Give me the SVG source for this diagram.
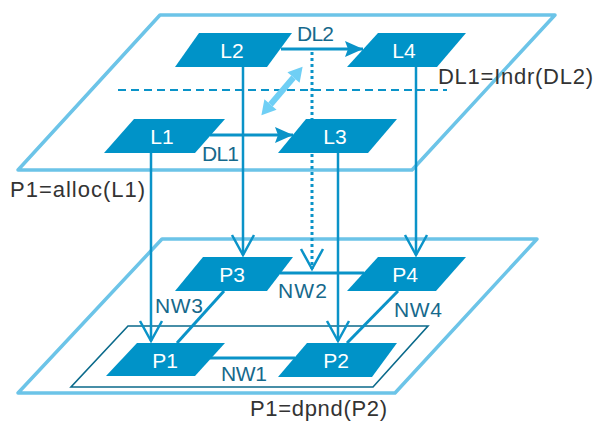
<svg xmlns="http://www.w3.org/2000/svg" width="595" height="421" viewBox="0 0 595 421">
  <style>
    .plane { fill: none; stroke: #6cc4e8; stroke-width: 3.5; stroke-linejoin: round; }
    .inner { fill: none; stroke: #0b6a8b; stroke-width: 1.6; }
    .node { fill: #0093c8; }
    .nlabel { font-family: "Liberation Sans", Arial, sans-serif; font-size: 21px; fill: #ffffff; text-anchor: middle; }
    .elabel { font-family: "Liberation Sans", Arial, sans-serif; font-size: 21px; fill: #16698c; }
    .rel { font-family: "Liberation Sans", Arial, sans-serif; font-size: 22px; fill: #333333; }
    .link { stroke: #0a93c8; stroke-width: 3; fill: none; }
    .map { stroke: #0a93c8; stroke-width: 2.5; fill: none; marker-end: url(#vhead); }
    .dots { stroke: #0a93c8; stroke-width: 3; fill: none; stroke-dasharray: 3 3; marker-end: url(#vhead); }
    .dash { stroke: #0a93c8; stroke-width: 2; fill: none; stroke-dasharray: 8 5; }
    .swap { stroke: #6fcff5; stroke-width: 6; fill: none; marker-start: url(#lhead); marker-end: url(#lhead); }
  </style>
  <defs>
    <marker id="vhead" markerUnits="userSpaceOnUse" viewBox="-22 -13 24 26" refX="0" refY="0" markerWidth="24" markerHeight="26" orient="auto" overflow="visible">
      <path d="M-20,-11 L0,0 L-20,11" fill="none" stroke="#0a93c8" stroke-width="2.5" stroke-linejoin="miter"/>
    </marker>
    <marker id="fhead" markerUnits="userSpaceOnUse" viewBox="-19 -9 20 18" refX="0" refY="0" markerWidth="20" markerHeight="18" orient="auto" overflow="visible">
      <path d="M0,0 L-18,-8 L-15,0 L-18,8 Z" fill="#0a93c8"/>
    </marker>
    <!-- tip sits 14 units past the line end so the wide stroke stays inside the head -->
    <marker id="lhead" markerUnits="userSpaceOnUse" viewBox="-1 -9 16 18" refX="0" refY="0" markerWidth="16" markerHeight="18" orient="auto-start-reverse" overflow="visible">
      <path d="M14,0 L0,-8 L0,8 Z" fill="#6fcff5"/>
    </marker>
  </defs>

  <!-- layers -->
  <g id="logical-plane">
    <polygon class="plane" points="160,15 555,15 412,170 18,170"/>
    <line class="dash" x1="118" y1="90" x2="447" y2="90"/>
  </g>
  <g id="physical-plane">
    <polygon class="plane" points="162,239 537,239 395,393 18,393"/>
    <polygon class="inner" points="128,326 428,326 373,387 71,387"/>
  </g>

  <!-- connectors -->
  <g id="connectors">
    <line class="link" x1="281" y1="49" x2="363" y2="49" marker-end="url(#fhead)"/>
    <line class="link" x1="210" y1="135" x2="293" y2="135" marker-end="url(#fhead)"/>
    <line class="swap" x1="270.5" y1="104.5" x2="293.5" y2="77.5"/>
    <line class="dots" x1="312" y1="52" x2="312" y2="269"/>
    <line class="map" x1="151" y1="153" x2="151" y2="341"/>
    <line class="map" x1="243" y1="67" x2="243" y2="255"/>
    <line class="map" x1="338" y1="153" x2="338" y2="341"/>
    <line class="map" x1="416" y1="67" x2="416" y2="255"/>
    <line class="link" x1="280" y1="273" x2="364" y2="273"/>
    <line class="link" x1="210" y1="358" x2="295" y2="358"/>
    <line class="link" x1="224" y1="291" x2="177" y2="343"/>
    <line class="link" x1="398" y1="291" x2="347" y2="343"/>
  </g>

  <!-- logical nodes -->
  <g id="L1"><polygon class="node" points="134,119 225,119 195,153 104,153"/><text class="nlabel" x="162" y="144">L1</text></g>
  <g id="L2"><polygon class="node" points="199,33 292,33 267,67 175,67"/><text class="nlabel" x="232" y="58">L2</text></g>
  <g id="L3"><polygon class="node" points="306,119 397,119 368,153 278,153"/><text class="nlabel" x="335" y="144">L3</text></g>
  <g id="L4"><polygon class="node" points="378,33 466,33 437,67 347,67"/><text class="nlabel" x="404" y="58">L4</text></g>

  <!-- physical nodes -->
  <g id="P1"><polygon class="node" points="137,343 225,343 195,376 106,376"/><text class="nlabel" x="165" y="368">P1</text></g>
  <g id="P2"><polygon class="node" points="307,343 397,343 372,377 278,377"/><text class="nlabel" x="336" y="368">P2</text></g>
  <g id="P3"><polygon class="node" points="203,257 293,257 267,291 175,291"/><text class="nlabel" x="232" y="282">P3</text></g>
  <g id="P4"><polygon class="node" points="378,257 466,257 436,291 347,291"/><text class="nlabel" x="405" y="282">P4</text></g>

  <!-- link labels -->
  <g id="labels">
    <text class="elabel" x="297" y="41" textLength="37" lengthAdjust="spacing">DL2</text>
    <text class="elabel" x="202" y="161" textLength="37" lengthAdjust="spacing">DL1</text>
    <text class="elabel" x="155" y="313" textLength="48" lengthAdjust="spacing">NW3</text>
    <text class="elabel" x="278" y="298" textLength="49" lengthAdjust="spacing">NW2</text>
    <text class="elabel" x="221" y="381" textLength="46" lengthAdjust="spacing">NW1</text>
    <text class="elabel" x="394" y="317" textLength="48" lengthAdjust="spacing">NW4</text>
    <text class="rel" x="10" y="197" textLength="135" lengthAdjust="spacing">P1=alloc(L1)</text>
    <text class="rel" x="438" y="84" textLength="155" lengthAdjust="spacing">DL1=Indr(DL2)</text>
    <text class="rel" x="250" y="416" textLength="137" lengthAdjust="spacing">P1=dpnd(P2)</text>
  </g>
</svg>
